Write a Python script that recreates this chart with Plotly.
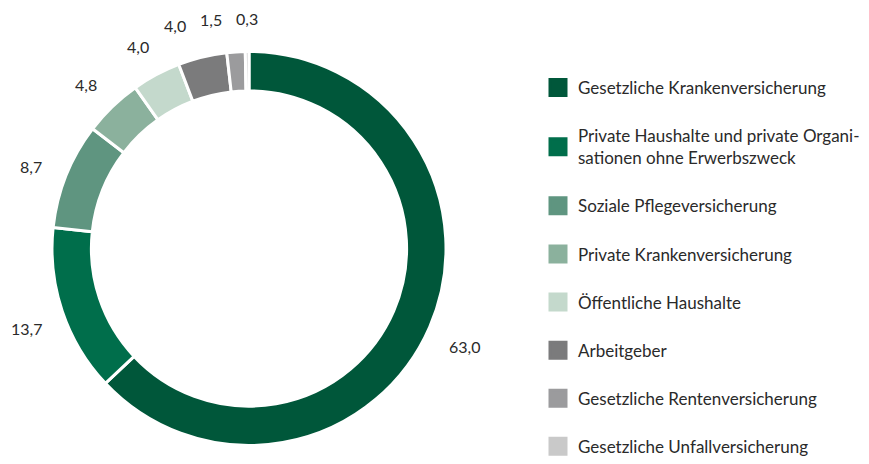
import math
import plotly.graph_objects as go

labels = [
    "Gesetzliche Krankenversicherung",
    "Private Haushalte und private Organi-<br>sationen ohne Erwerbszweck",
    "Soziale Pflegeversicherung",
    "Private Krankenversicherung",
    "Öffentliche Haushalte",
    "Arbeitgeber",
    "Gesetzliche Rentenversicherung",
    "Gesetzliche Unfallversicherung",
]
values = [63.0, 13.7, 8.7, 4.8, 4.0, 4.0, 1.5, 0.3]
value_text = ["63,0", "13,7", "8,7", "4,8", "4,0", "4,0", "1,5", "0,3"]
colors = ["#00573a", "#006e4b", "#5f9580", "#8bb19d", "#c4d9cc",
          "#7b7b7c", "#9b9b9d", "#c9c9c9"]

PAGE_W, PAGE_H = 869, 464
OFF = 8  # default body margin of the html page
W, H = PAGE_W - OFF, PAGE_H - OFF
FONT = "Lato"
TEXT_COLOR = "#2a2a2a"


def fx(px):
    return (px - OFF) / W


def fy(py):
    return 1 - (py - OFF) / H


# pie placement (page pixels)
cx, cy, R = 249, 248.5, 197
dom_x = [fx(cx - R), fx(cx + R)]
dom_y = [fy(cy + R), fy(cy - R)]

fig = go.Figure()
fig.add_trace(go.Pie(
    values=values,
    labels=labels,
    sort=False,
    direction="clockwise",
    rotation=0,
    hole=0.8,
    marker=dict(colors=colors, line=dict(color="white", width=3)),
    textinfo="none",
    showlegend=False,
    domain=dict(x=dom_x, y=dom_y),
    hoverinfo="label+value",
))

# legend entries via empty scatter traces
for lab, col in zip(labels, colors):
    fig.add_trace(go.Scatter(
        x=[None], y=[None], mode="markers", name=lab,
        legendgroup=lab,
        marker=dict(symbol="square", size=16, color=col,
                    line=dict(color=col, width=3)),
    ))

# value labels placed radially outside the ring
total = sum(values)
label_r = 235
label_cy = cy + 5
min_gap = 36
positions = []
cum = 0.0
for v in values:
    mid = (cum + v / 2) / total * 2 * math.pi
    cum += v
    px = cx + label_r * math.sin(mid)
    py = label_cy - label_r * math.cos(mid)
    positions.append([px, py])
# push crowded labels near the top apart (work backwards from the last)
for i in range(len(positions) - 2, -1, -1):
    nx, ny = positions[i + 1]
    x, y = positions[i]
    if abs(y - ny) < 20 and abs(nx - x) < min_gap:
        positions[i][0] = nx - min_gap

for (px, py), t in zip(positions, value_text):
    fig.add_annotation(
        x=fx(px), y=fy(py), xref="paper", yref="paper",
        text=t, showarrow=False, xanchor="center", yanchor="middle",
        font=dict(family=FONT, size=16, color=TEXT_COLOR),
    )

fig.update_layout(
    width=W, height=H,
    margin=dict(l=0, r=0, t=0, b=0, autoexpand=False),
    paper_bgcolor="white", plot_bgcolor="white",
    xaxis=dict(visible=False), yaxis=dict(visible=False),
    legend=dict(
        x=fx(538), y=0, xanchor="left", yanchor="bottom",
        tracegroupgap=23,
        font=dict(family=FONT, size=17, color=TEXT_COLOR),
        bgcolor="rgba(0,0,0,0)",
    ),
    font=dict(family=FONT, color=TEXT_COLOR),
)

fig.write_html("out.html")
